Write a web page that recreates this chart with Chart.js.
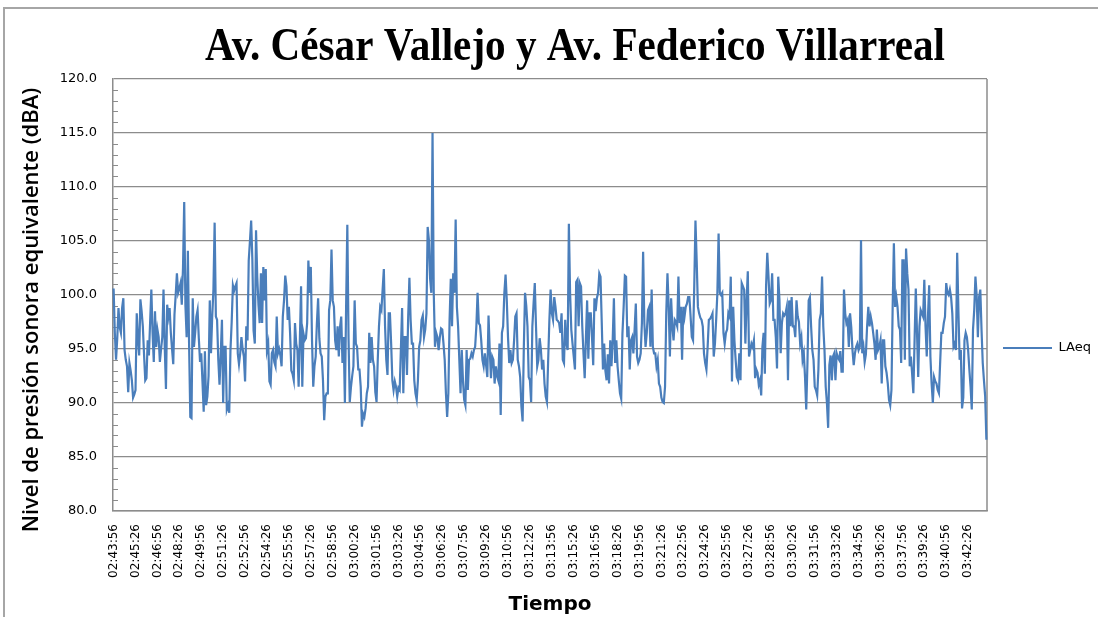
<!DOCTYPE html>
<html>
<head>
<meta charset="utf-8">
<script src="https://cdn.jsdelivr.net/npm/chart.js@4.4.0/dist/chart.umd.min.js"></script>
<style>
  html, body { margin: 0; padding: 0; background: #fff; overflow: hidden; }
  #wrap { position: relative; width: 1098px; height: 617px; }
  #frame { position: absolute; left: 3px; top: 7px; width: 1200px; height: 700px; border: 2px solid #a6a6a6; pointer-events: none; }
  canvas { position: absolute; left: 0; top: 0; }
</style>
</head>
<body>
<div id="wrap">
  <canvas id="chart" width="1098" height="617"></canvas>
  <div id="frame"></div>
</div>
<script>
const chartTitle = 'Av. César Vallejo y Av. Federico Villarreal';
const yTitle = 'Nivel de presión sonora equivalente (dBA)';
const xTitle = 'Tiempo';
const seriesName = 'LAeq';

// one reading every 5 s, starting at 02:43:56
const startTime = '02:43:56';
const stepSeconds = 5;

// x labels shown every 18 readings (90 s)
const tickLabels = [
  '02:43:56', '02:45:26', '02:46:56', '02:48:26', '02:49:56', '02:51:26', '02:52:56', '02:54:26',
  '02:55:56', '02:57:26', '02:58:56', '03:00:26', '03:01:56', '03:03:26', '03:04:56', '03:06:26',
  '03:07:56', '03:09:26', '03:10:56', '03:12:26', '03:13:56', '03:15:26', '03:16:56', '03:18:26',
  '03:19:56', '03:21:26', '03:22:56', '03:24:26', '03:25:56', '03:27:26', '03:28:56', '03:30:26',
  '03:31:56', '03:33:26', '03:34:56', '03:36:26', '03:37:56', '03:39:26', '03:40:56', '03:42:26'
];
const labelEvery = 18;

const yTicks = [80, 85, 90, 95, 100, 105, 110, 115, 120];

const laeq = [
  100.6, 96.5, 94.0, 96.0, 98.8, 97.0, 96.5, 98.8, 99.7, 94.9,
  94.0, 93.4, 91.0, 93.7, 93.0, 92.1, 90.5, 90.8, 91.2, 98.3,
  96.0, 94.4, 99.6, 98.5, 97.1, 94.5, 92.1, 92.3, 95.8, 94.4,
  97.5, 100.5, 96.5, 93.8, 98.5, 95.2, 96.8, 96.1, 93.8, 95.0,
  96.1, 100.5, 95.2, 91.3, 99.1, 98.0, 98.8, 96.5, 95.0, 93.6,
  98.2, 100.0, 102.0, 100.2, 100.6, 101.1, 99.1, 102.5, 108.6, 99.0,
  96.1, 104.1, 95.5, 88.7, 88.6, 99.7, 95.2, 96.5, 98.0, 98.6,
  96.0, 93.8, 94.6, 92.0, 89.2, 94.8, 89.8, 90.6, 92.5, 99.5,
  94.6, 98.0, 100.5, 106.7, 98.0, 97.7, 94.0, 91.7, 94.5, 97.7,
  90.0, 95.2, 95.2, 89.4, 89.8, 89.1, 94.9, 97.5, 100.9, 100.4,
  100.8, 101.1, 94.6, 93.6, 94.6, 96.1, 95.0, 94.3, 92.0, 97.1,
  95.8, 103.2, 105.0, 106.9, 103.2, 96.7, 95.5, 106.0, 101.7, 99.1,
  97.4, 102.0, 97.4, 102.6, 99.5, 102.4, 94.9, 95.5, 92.0, 91.7,
  94.6, 94.9, 93.8, 93.4, 98.0, 94.6, 95.0, 94.4, 93.4, 98.0,
  99.5, 101.8, 100.8, 97.7, 98.9, 96.4, 93.0, 92.7, 92.1, 97.4,
  95.5, 94.9, 91.5, 95.8, 100.8, 91.5, 96.4, 95.8, 96.0, 97.4,
  103.2, 100.2, 102.6, 95.8, 91.5, 93.4, 94.3, 97.4, 99.7, 96.0,
  94.6, 94.3, 92.1, 88.4, 90.6, 90.9, 90.9, 98.6, 99.5, 104.2,
  99.5, 98.9, 95.8, 94.9, 97.1, 94.3, 97.0, 98.0, 93.7, 96.1,
  90.0, 98.9, 106.5, 96.0, 90.1, 91.5, 92.5, 93.4, 99.5, 95.5,
  95.2, 93.1, 93.1, 91.5, 87.8, 89.0, 88.7, 89.5, 90.9, 91.5,
  96.5, 93.7, 96.1, 94.0, 93.4, 91.0, 90.1, 94.0, 97.1, 98.9,
  98.6, 100.5, 102.4, 97.1, 94.0, 92.6, 98.3, 98.3, 95.5, 92.1,
  91.2, 92.0, 91.5, 90.6, 91.4, 91.2, 95.0, 98.8, 90.9, 96.1,
  96.1, 92.6, 98.0, 101.6, 97.7, 95.5, 95.5, 92.1, 90.9, 90.3,
  92.1, 95.2, 95.8, 97.7, 98.1, 96.1, 96.8, 98.3, 106.3, 105.1,
  101.5, 100.2, 115.0, 100.2, 95.2, 96.5, 96.1, 94.9, 96.1, 96.9,
  96.8, 95.5, 94.0, 90.9, 88.7, 90.9, 97.7, 101.5, 97.1, 102.0,
  100.2, 107.0, 98.9, 97.1, 94.0, 90.9, 94.9, 92.1, 90.3, 89.8,
  94.9, 91.2, 94.0, 94.1, 94.6, 94.3, 94.9, 95.2, 97.1, 100.2,
  97.4, 97.2, 95.8, 94.0, 93.4, 94.6, 93.5, 92.4, 98.1, 94.9,
  92.3, 94.3, 94.0, 91.8, 93.4, 92.5, 92.1, 95.5, 88.9, 96.5,
  97.1, 100.2, 101.9, 99.5, 96.1, 93.7, 94.9, 93.7, 94.0, 95.8,
  98.0, 98.3, 94.0, 93.4, 92.4, 89.7, 88.3, 95.2, 100.2, 99.0,
  97.1, 92.4, 92.1, 90.1, 97.1, 99.2, 101.1, 97.1, 93.4, 94.0,
  96.0, 95.0, 93.1, 94.0, 91.8, 90.6, 90.1, 94.0, 97.7, 100.5,
  98.3, 97.7, 99.8, 98.9, 97.7, 97.6, 97.4, 96.5, 98.3, 94.0,
  93.7, 97.7, 95.5, 94.9, 106.6, 100.2, 96.8, 95.5, 94.3, 93.1,
  101.2, 101.4, 97.1, 101.1, 100.8, 97.1, 94.6, 92.3, 96.0, 99.5,
  94.1, 98.3, 98.3, 96.1, 93.5, 99.7, 98.5, 99.7, 100.2, 102.0,
  101.7, 97.5, 93.1, 95.5, 93.0, 92.1, 94.5, 91.8, 95.8, 93.4,
  95.8, 99.7, 93.7, 95.8, 93.4, 92.1, 90.9, 90.4, 96.4, 98.9,
  101.8, 101.7, 96.1, 97.1, 93.1, 95.8, 96.1, 94.6, 96.8, 99.2,
  94.3, 93.7, 94.0, 94.6, 97.4, 104.0, 97.4, 95.2, 96.5, 98.6,
  98.9, 95.2, 100.5, 95.2, 94.6, 94.6, 93.4, 94.0, 91.8, 91.5,
  90.5, 90.1, 90.0, 91.5, 98.3, 102.0, 98.9, 94.3, 99.7, 97.1,
  95.8, 97.7, 97.5, 97.1, 101.7, 97.4, 98.9, 94.0, 98.9, 98.0,
  98.9, 99.2, 99.8, 99.8, 98.0, 96.1, 95.8, 100.8, 106.9, 103.2,
  98.9, 98.3, 97.9, 97.7, 97.1, 94.6, 93.7, 93.1, 95.2, 97.7,
  97.8, 98.0, 98.3, 94.3, 95.5, 97.7, 100.2, 105.7, 100.2, 100.0,
  100.2, 96.5, 95.5, 96.5, 96.8, 98.3, 98.0, 101.7, 92.0, 98.9,
  95.8, 94.0, 92.4, 92.1, 94.6, 92.1, 101.1, 100.8, 100.5, 95.5,
  99.5, 102.2, 94.3, 94.9, 95.5, 95.2, 95.8, 92.3, 93.1, 92.8,
  91.7, 92.1, 90.7, 95.2, 96.5, 92.7, 100.8, 103.9, 101.7, 99.2,
  99.5, 102.0, 97.7, 97.7, 96.1, 93.2, 101.7, 99.5, 94.6, 97.4,
  98.3, 98.1, 98.3, 98.9, 92.1, 99.5, 97.1, 99.8, 97.1, 97.1,
  96.1, 99.5, 98.0, 97.5, 95.5, 96.1, 94.0, 94.6, 92.4, 89.4,
  93.7, 99.5, 99.8, 97.1, 94.9, 94.0, 91.5, 91.2, 90.7, 93.1,
  97.7, 98.3, 101.7, 97.1, 94.9, 91.5, 90.0, 87.7, 93.5, 94.4,
  92.1, 94.3, 94.6, 92.1, 94.6, 94.2, 94.0, 94.8, 92.9, 92.9,
  100.5, 98.3, 97.4, 97.7, 95.2, 98.3, 97.0, 94.9, 93.5, 94.6,
  95.2, 95.5, 94.9, 95.2, 105.1, 94.6, 95.2, 93.8, 94.5, 97.1,
  98.9, 97.1, 98.0, 97.4, 96.5, 95.5, 94.0, 96.8, 94.9, 95.2,
  95.8, 91.8, 95.8, 95.8, 93.4, 92.8, 91.8, 90.3, 89.8, 91.2,
  98.9, 104.8, 98.9, 99.8, 98.9, 97.1, 96.8, 93.7, 103.2, 103.2,
  94.0, 104.3, 102.0, 100.5, 93.4, 94.3, 92.7, 90.9, 95.8, 100.6,
  96.5, 92.4, 97.1, 98.6, 98.3, 98.0, 101.4, 97.1, 94.3, 98.0,
  100.9, 94.3, 91.8, 90.0, 92.4, 92.0, 91.8, 91.2, 90.9, 93.7,
  96.5, 96.5, 97.4, 98.0, 101.1, 100.2, 100.0, 100.5, 99.8, 98.3,
  95.2, 95.5, 94.9, 103.9, 98.6, 94.0, 94.9, 89.5, 90.5, 95.8,
  96.5, 96.1, 94.9, 93.1, 91.5, 89.4, 96.8, 98.6, 101.7, 100.0,
  96.1, 99.8, 100.5, 96.8, 93.7, 92.1, 90.6, 86.6
];

function timeLabel(i) {
  const p = startTime.split(':').map(Number);
  let s = p[0] * 3600 + p[1] * 60 + p[2] + i * stepSeconds;
  const h = Math.floor(s / 3600); s -= h * 3600;
  const m = Math.floor(s / 60); s -= m * 60;
  return [h, m, s].map(n => String(n).padStart(2, '0')).join(':');
}
const times = laeq.map((v, i) => timeLabel(i));

const gridColor = '#8c8c8c';
const lineColor = '#4a7ebb';

// big condensed serif title centred over the whole frame, and the value axis title
const titles = {
  id: 'titles',
  afterDraw(chart) {
    const ctx = chart.ctx;
    ctx.save();
    ctx.font = 'bold 46px "Liberation Serif"';
    const w = ctx.measureText(chartTitle).width;
    ctx.translate(575, 60);
    ctx.scale(740 / w, 1);
    ctx.textAlign = 'center';
    ctx.textBaseline = 'alphabetic';
    ctx.fillStyle = '#000';
    ctx.fillText(chartTitle, 0, 0);
    ctx.restore();

    ctx.save();
    ctx.font = '600 22px "Open Sans"';
    ctx.translate(32, 310);
    ctx.rotate(-Math.PI / 2);
    ctx.textAlign = 'center';
    ctx.textBaseline = 'middle';
    ctx.fillStyle = '#000';
    ctx.fillText(yTitle, 0, 0);
    ctx.restore();
  }
};

// small inner ticks on the value axis, one per unit
const minorTicks = {
  id: 'minorTicks',
  beforeDatasetsDraw(chart) {
    const y = chart.scales.y;
    const left = chart.chartArea.left;
    const ctx = chart.ctx;
    ctx.save();
    ctx.strokeStyle = gridColor;
    ctx.lineWidth = 1;
    for (let v = y.min + 1; v < y.max; v++) {
      if (v % 5 === 0) continue;
      const py = Math.round(y.getPixelForValue(v)) + 0.5;
      ctx.beginPath();
      ctx.moveTo(left, py);
      ctx.lineTo(left + 5, py);
      ctx.stroke();
    }
    ctx.restore();
  }
};

const plotBorder = {
  id: 'plotBorder',
  beforeDatasetsDraw(chart) {
    const {right, top, bottom} = chart.chartArea;
    const ctx = chart.ctx;
    ctx.save();
    ctx.strokeStyle = gridColor;
    ctx.lineWidth = 1.5;
    ctx.beginPath();
    ctx.moveTo(right, top);
    ctx.lineTo(right, bottom);
    ctx.stroke();
    ctx.restore();
  }
};

new Chart(document.getElementById('chart'), {
  type: 'line',
  data: {
    labels: times,
    datasets: [{
      label: seriesName,
      data: laeq,
      borderColor: lineColor,
      backgroundColor: lineColor,
      borderWidth: 2.2,
      pointRadius: 0,
      tension: 0,
      fill: false
    }]
  },
  options: {
    responsive: false,
    animation: false,
    devicePixelRatio: 1,
    layout: { padding: { top: 79, left: 10, right: 0, bottom: 0 } },
    plugins: {
      title: { display: false },
      tooltip: { enabled: false },
      legend: {
        position: 'right',
        align: 'center',
        maxWidth: 111,
        labels: {
          boxWidth: 49,
          boxHeight: 2,
          padding: 16,
          color: '#000',
          font: { family: 'DejaVu Sans', size: 13 },
          generateLabels: chart => Chart.defaults.plugins.legend.labels.generateLabels(chart)
            .map(item => Object.assign(item, { lineWidth: 0 }))
        }
      }
    },
    scales: {
      x: {
        offset: true,
        grid: { display: false, drawTicks: false },
        border: { display: true, color: gridColor, width: 1.5 },
        ticks: {
          autoSkip: false,
          maxRotation: 90,
          minRotation: 90,
          padding: 13,
          color: '#000',
          font: { family: 'DejaVu Sans', size: 12 },
          callback: (v, i) => i % labelEvery === 0 ? tickLabels[i / labelEvery] : ''
        },
        title: {
          display: true,
          text: xTitle,
          color: '#000',
          font: { family: 'DejaVu Sans', size: 20, weight: 'bold' },
          padding: { top: 0, bottom: 0 }
        },
        afterFit: s => { s.height = 106; }
      },
      y: {
        min: yTicks[0],
        max: yTicks[yTicks.length - 1],
        grid: { color: gridColor, lineWidth: 1.3, drawTicks: false },
        border: { display: true, color: gridColor, width: 1.5 },
        afterBuildTicks: s => { s.ticks = yTicks.map(v => ({ value: v })); },
        ticks: {
          padding: 16,
          color: '#000',
          font: { family: 'DejaVu Sans', size: 13 },
          callback: v => Number(v).toFixed(1)
        },
        afterFit: s => { s.width = 103; }
      }
    }
  },
  plugins: [titles, minorTicks, plotBorder]
});
</script>
</body>
</html>
